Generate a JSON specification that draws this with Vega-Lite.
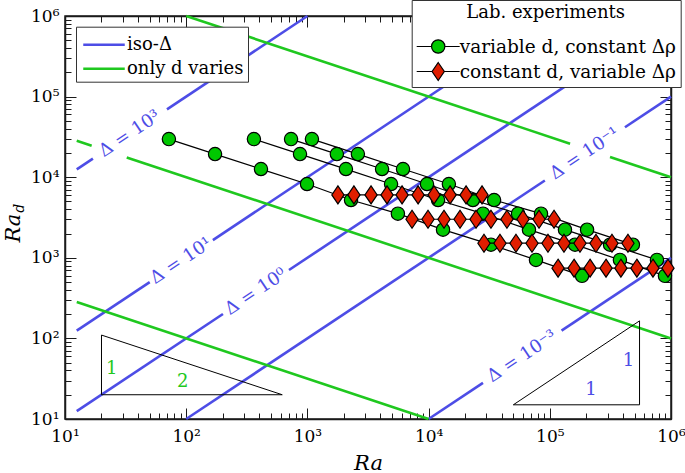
{
  "$schema": "https://vega.github.io/schema/vega-lite/v6.json",
  "width": 606,
  "height": 403,
  "autosize": {"type": "none"},
  "padding": {"left": 65, "top": 16, "right": 14, "bottom": 54},
  "background": "white",
  "config": {
    "font": "DejaVu Serif",
    "view": {"stroke": "#1a1a1a", "strokeWidth": 1.5},
    "axis": {
      "grid": false,
      "domainColor": "#1a1a1a",
      "domainWidth": 1.5,
      "tickColor": "#1a1a1a",
      "tickWidth": 1,
      "labelColor": "black",
      "labelFont": "DejaVu Serif",
      "labelFontSize": 17,
      "titleFont": "DejaVu Serif",
      "titleFontSize": 21,
      "titleFontWeight": "normal",
      "titleFontStyle": "italic",
      "titleColor": "black",
      "labelFlush": false,
      "labelOverlap": false,
      "labelBound": false
    },
    "legend": {
      "labelFont": "DejaVu Serif",
      "labelFontSize": 18,
      "titleFont": "DejaVu Serif",
      "titleFontSize": 18,
      "titleFontWeight": "normal",
      "titleColor": "black",
      "labelColor": "black",
      "labelLimit": 400,
      "strokeColor": "#333333",
      "fillColor": "white"
    }
  },
  "datasets": {
    "guides": [
      {"kind": "iso-Δ", "Ra": 12.5, "Rad": 12500, "Ra2": 17, "Rad2": 17000},
      {"kind": "iso-Δ", "Ra": 69.4, "Rad": 69400, "Ra2": 1000, "Rad2": 1000000},
      {"kind": "iso-Δ", "Ra": 12.5, "Rad": 125, "Ra2": 50, "Rad2": 500},
      {"kind": "iso-Δ", "Ra": 166, "Rad": 1660, "Ra2": 100000, "Rad2": 1000000},
      {"kind": "iso-Δ", "Ra": 12.5, "Rad": 12.5, "Ra2": 201, "Rad2": 201},
      {"kind": "iso-Δ", "Ra": 705, "Rad": 705, "Ra2": 1000000, "Rad2": 1000000},
      {"kind": "iso-Δ", "Ra": 100, "Rad": 10, "Ra2": 91000, "Rad2": 9100},
      {"kind": "iso-Δ", "Ra": 417000, "Rad": 41700, "Ra2": 1000000, "Rad2": 100000},
      {"kind": "iso-Δ", "Ra": 10000, "Rad": 10, "Ra2": 28100, "Rad2": 28.1},
      {"kind": "iso-Δ", "Ra": 125000, "Rad": 125, "Ra2": 1000000, "Rad2": 1000},
      {"kind": "only d varies", "Ra": 100, "Rad": 1000000, "Ra2": 147000, "Rad2": 26080},
      {"kind": "only d varies", "Ra": 314000, "Rad": 17850, "Ra2": 1000000, "Rad2": 10000},
      {"kind": "only d varies", "Ra": 12.5, "Rad": 28280, "Ra2": 16.6, "Rad2": 24540},
      {"kind": "only d varies", "Ra": 32.3, "Rad": 17600, "Ra2": 1000000, "Rad2": 100},
      {"kind": "only d varies", "Ra": 12.5, "Rad": 282.8, "Ra2": 10000, "Rad2": 10}
    ],
    "deltaLabels": [
      {"text": "Δ = 10³", "Ra": 34.3, "Rad": 34300},
      {"text": "Δ = 10¹", "Ra": 91, "Rad": 910},
      {"text": "Δ = 10⁰", "Ra": 376, "Rad": 376},
      {"text": "Δ = 10⁻¹", "Ra": 194800, "Rad": 19480},
      {"text": "Δ = 10⁻³", "Ra": 59300, "Rad": 59.3}
    ],
    "triangles": [
      {"Ra": 20, "Rad": 20, "Ra2": 620, "Rad2": 20},
      {"Ra": 20, "Rad": 20, "Ra2": 20, "Rad2": 110},
      {"Ra": 20, "Rad": 110, "Ra2": 620, "Rad2": 20},
      {"Ra": 50000, "Rad": 15, "Ra2": 550000, "Rad2": 15},
      {"Ra": 550000, "Rad": 15, "Ra2": 550000, "Rad2": 165},
      {"Ra": 50000, "Rad": 15, "Ra2": 550000, "Rad2": 165}
    ],
    "slopeLabels": [
      {"text": "1", "kind": "only d varies", "Ra": 24.3, "Rad": 41.7},
      {"text": "2", "kind": "only d varies", "Ra": 93.5, "Rad": 28.4},
      {"text": "1", "kind": "iso-Δ", "Ra": 219000, "Rad": 23.1},
      {"text": "1", "kind": "iso-Δ", "Ra": 445000, "Rad": 51.8}
    ],
    "yTitle": [
      {"main": "Ra", "sub": "d", "Ra": 4.253, "Rad": 3524}
    ],
    "experiments": [
      {"series": "G1", "type": "variable d, constant Δρ", "Ra": 72, "Rad": 29700},
      {"series": "G1", "type": "variable d, constant Δρ", "Ra": 173, "Rad": 19360},
      {"series": "G1", "type": "variable d, constant Δρ", "Ra": 414, "Rad": 12620},
      {"series": "G1", "type": "variable d, constant Δρ", "Ra": 993, "Rad": 8222},
      {"series": "G1", "type": "variable d, constant Δρ", "Ra": 2290, "Rad": 5212},
      {"series": "G1", "type": "variable d, constant Δρ", "Ra": 5580, "Rad": 3532},
      {"series": "G1", "type": "variable d, constant Δρ", "Ra": 13150, "Rad": 2234},
      {"series": "G1", "type": "variable d, constant Δρ", "Ra": 32700, "Rad": 1455},
      {"series": "G1", "type": "variable d, constant Δρ", "Ra": 76900, "Rad": 942},
      {"series": "G1", "type": "variable d, constant Δρ", "Ra": 184500, "Rad": 597},
      {"series": "G2", "type": "variable d, constant Δρ", "Ra": 362, "Rad": 29700},
      {"series": "G2", "type": "variable d, constant Δρ", "Ra": 869, "Rad": 19360},
      {"series": "G2", "type": "variable d, constant Δρ", "Ra": 2080, "Rad": 12620},
      {"series": "G2", "type": "variable d, constant Δρ", "Ra": 4900, "Rad": 8222},
      {"series": "G2", "type": "variable d, constant Δρ", "Ra": 11970, "Rad": 5212},
      {"series": "G2", "type": "variable d, constant Δρ", "Ra": 28100, "Rad": 3532},
      {"series": "G2", "type": "variable d, constant Δρ", "Ra": 67300, "Rad": 2234},
      {"series": "G2", "type": "variable d, constant Δρ", "Ra": 161500, "Rad": 1455},
      {"series": "G2", "type": "variable d, constant Δρ", "Ra": 379000, "Rad": 942},
      {"series": "G2", "type": "variable d, constant Δρ", "Ra": 891000, "Rad": 597},
      {"series": "G3", "type": "variable d, constant Δρ", "Ra": 733, "Rad": 29700},
      {"series": "G3", "type": "variable d, constant Δρ", "Ra": 1750, "Rad": 19360},
      {"series": "G3", "type": "variable d, constant Δρ", "Ra": 4130, "Rad": 12620},
      {"series": "G3", "type": "variable d, constant Δρ", "Ra": 9700, "Rad": 8222},
      {"series": "G3", "type": "variable d, constant Δρ", "Ra": 23200, "Rad": 5212},
      {"series": "G3", "type": "variable d, constant Δρ", "Ra": 54700, "Rad": 3532},
      {"series": "G3", "type": "variable d, constant Δρ", "Ra": 133400, "Rad": 2234},
      {"series": "G3", "type": "variable d, constant Δρ", "Ra": 314000, "Rad": 1455},
      {"series": "G3", "type": "variable d, constant Δρ", "Ra": 766000, "Rad": 942},
      {"series": "G4", "type": "variable d, constant Δρ", "Ra": 1090, "Rad": 29700},
      {"series": "G4", "type": "variable d, constant Δρ", "Ra": 2610, "Rad": 19360},
      {"series": "G4", "type": "variable d, constant Δρ", "Ra": 6150, "Rad": 12620},
      {"series": "G4", "type": "variable d, constant Δρ", "Ra": 14700, "Rad": 8222},
      {"series": "G4", "type": "variable d, constant Δρ", "Ra": 34700, "Rad": 5212},
      {"series": "G4", "type": "variable d, constant Δρ", "Ra": 84600, "Rad": 3532},
      {"series": "G4", "type": "variable d, constant Δρ", "Ra": 203000, "Rad": 2234},
      {"series": "G4", "type": "variable d, constant Δρ", "Ra": 485000, "Rad": 1455},
      {"series": "R1", "type": "constant d, variable Δρ", "Ra": 1786, "Rad": 6030},
      {"series": "R1", "type": "constant d, variable Δρ", "Ra": 2420, "Rad": 6030},
      {"series": "R1", "type": "constant d, variable Δρ", "Ra": 3350, "Rad": 6030},
      {"series": "R1", "type": "constant d, variable Δρ", "Ra": 4540, "Rad": 6030},
      {"series": "R1", "type": "constant d, variable Δρ", "Ra": 6040, "Rad": 6030},
      {"series": "R1", "type": "constant d, variable Δρ", "Ra": 8190, "Rad": 6030},
      {"series": "R1", "type": "constant d, variable Δρ", "Ra": 11090, "Rad": 6030},
      {"series": "R1", "type": "constant d, variable Δρ", "Ra": 15040, "Rad": 6030},
      {"series": "R1", "type": "constant d, variable Δρ", "Ra": 20380, "Rad": 6030},
      {"series": "R1", "type": "constant d, variable Δρ", "Ra": 27600, "Rad": 6030},
      {"series": "R2", "type": "constant d, variable Δρ", "Ra": 7300, "Rad": 3010},
      {"series": "R2", "type": "constant d, variable Δρ", "Ra": 9890, "Rad": 3010},
      {"series": "R2", "type": "constant d, variable Δρ", "Ra": 13400, "Rad": 3010},
      {"series": "R2", "type": "constant d, variable Δρ", "Ra": 18170, "Rad": 3010},
      {"series": "R2", "type": "constant d, variable Δρ", "Ra": 24620, "Rad": 3010},
      {"series": "R2", "type": "constant d, variable Δρ", "Ra": 32700, "Rad": 3010},
      {"series": "R2", "type": "constant d, variable Δρ", "Ra": 44300, "Rad": 3010},
      {"series": "R2", "type": "constant d, variable Δρ", "Ra": 60100, "Rad": 3010},
      {"series": "R2", "type": "constant d, variable Δρ", "Ra": 81500, "Rad": 3010},
      {"series": "R2", "type": "constant d, variable Δρ", "Ra": 108400, "Rad": 3010},
      {"series": "R3", "type": "constant d, variable Δρ", "Ra": 28640, "Rad": 1517},
      {"series": "R3", "type": "constant d, variable Δρ", "Ra": 38800, "Rad": 1517},
      {"series": "R3", "type": "constant d, variable Δρ", "Ra": 52600, "Rad": 1517},
      {"series": "R3", "type": "constant d, variable Δρ", "Ra": 71300, "Rad": 1517},
      {"series": "R3", "type": "constant d, variable Δρ", "Ra": 96600, "Rad": 1517},
      {"series": "R3", "type": "constant d, variable Δρ", "Ra": 130900, "Rad": 1517},
      {"series": "R3", "type": "constant d, variable Δρ", "Ra": 177400, "Rad": 1517},
      {"series": "R3", "type": "constant d, variable Δρ", "Ra": 240400, "Rad": 1517},
      {"series": "R3", "type": "constant d, variable Δρ", "Ra": 325800, "Rad": 1517},
      {"series": "R3", "type": "constant d, variable Δρ", "Ra": 441500, "Rad": 1517},
      {"series": "R4", "type": "constant d, variable Δρ", "Ra": 117000, "Rad": 743},
      {"series": "R4", "type": "constant d, variable Δρ", "Ra": 158500, "Rad": 743},
      {"series": "R4", "type": "constant d, variable Δρ", "Ra": 214800, "Rad": 743},
      {"series": "R4", "type": "constant d, variable Δρ", "Ra": 291000, "Rad": 743},
      {"series": "R4", "type": "constant d, variable Δρ", "Ra": 386000, "Rad": 743},
      {"series": "R4", "type": "constant d, variable Δρ", "Ra": 523000, "Rad": 743},
      {"series": "R4", "type": "constant d, variable Δρ", "Ra": 710000, "Rad": 743},
      {"series": "R4", "type": "constant d, variable Δρ", "Ra": 944000, "Rad": 743}
    ]
  },
  "resolve": {"axis": {"x": "independent", "y": "independent"}},
  "layer": [
    {
      "data": {"name": "guides"},
      "mark": {"type": "rule", "strokeWidth": 2.6},
      "encoding": {
        "x": {
          "field": "Ra", "type": "quantitative",
          "scale": {"type": "log", "domain": [10, 1000000], "nice": false},
          "axis": {
            "orient": "bottom",
            "values": [10,20,30,40,50,60,70,80,90,100,200,300,400,500,600,700,800,900,1000,2000,3000,4000,5000,6000,7000,8000,9000,10000,20000,30000,40000,50000,60000,70000,80000,90000,100000,200000,300000,400000,500000,600000,700000,800000,900000,1000000],
            "labelExpr": "datum.value == 10 ? '10¹' : datum.value == 100 ? '10²' : datum.value == 1000 ? '10³' : datum.value == 10000 ? '10⁴' : datum.value == 100000 ? '10⁵' : datum.value == 1000000 ? '10⁶' : ''",
            "tickSize": {"condition": {"test": "datum.value == 10 || datum.value == 100 || datum.value == 1000 || datum.value == 10000 || datum.value == 100000 || datum.value == 1000000", "value": -11}, "value": -6},
            "labelPadding": 20,
            "title": "Ra",
            "titleY": 50,
            "titleBaseline": "alphabetic"
          }
        },
        "y": {
          "field": "Rad", "type": "quantitative",
          "scale": {"type": "log", "domain": [10, 1000000], "nice": false},
          "axis": {
            "orient": "left",
            "values": [10,20,30,40,50,60,70,80,90,100,200,300,400,500,600,700,800,900,1000,2000,3000,4000,5000,6000,7000,8000,9000,10000,20000,30000,40000,50000,60000,70000,80000,90000,100000,200000,300000,400000,500000,600000,700000,800000,900000,1000000],
            "labelExpr": "datum.value == 10 ? '10¹' : datum.value == 100 ? '10²' : datum.value == 1000 ? '10³' : datum.value == 10000 ? '10⁴' : datum.value == 100000 ? '10⁵' : datum.value == 1000000 ? '10⁶' : ''",
            "tickSize": {"condition": {"test": "datum.value == 10 || datum.value == 100 || datum.value == 1000 || datum.value == 10000 || datum.value == 100000 || datum.value == 1000000", "value": -11}, "value": -6},
            "labelPadding": 17,
            "title": null
          }
        },
        "x2": {"field": "Ra2"},
        "y2": {"field": "Rad2"},
        "stroke": {
          "field": "kind", "type": "nominal",
          "scale": {"domain": ["iso-Δ", "only d varies"], "range": ["#4d4de6", "#1fc81f"]},
          "legend": {
            "title": null,
            "orient": "none",
            "legendX": 11,
            "legendY": 10.7,
            "symbolType": "M-1.66,0L1.66,0",
            "symbolSize": 625,
            "symbolStrokeWidth": 2.6,
            "symbolOffset": 10,
            "labelOffset": 9,
            "padding": 4,
            "rowPadding": 1
          }
        }
      }
    },
    {
      "data": {"name": "deltaLabels"},
      "mark": {"type": "text", "angle": 326.34, "fontSize": 18, "color": "#4d4de6", "align": "center", "baseline": "middle"},
      "encoding": {
        "x": {"field": "Ra", "type": "quantitative", "scale": {"type": "log", "domain": [10, 1000000], "nice": false}, "axis": null},
        "y": {"field": "Rad", "type": "quantitative", "scale": {"type": "log", "domain": [10, 1000000], "nice": false}, "axis": null},
        "text": {"field": "text"}
      }
    },
    {
      "data": {"name": "triangles"},
      "mark": {"type": "rule", "color": "black", "strokeWidth": 1},
      "encoding": {
        "x": {
          "field": "Ra", "type": "quantitative",
          "scale": {"type": "log", "domain": [10, 1000000], "nice": false},
          "axis": {
            "orient": "top",
            "values": [10,20,30,40,50,60,70,80,90,100,200,300,400,500,600,700,800,900,1000,2000,3000,4000,5000,6000,7000,8000,9000,10000,20000,30000,40000,50000,60000,70000,80000,90000,100000,200000,300000,400000,500000,600000,700000,800000,900000,1000000],
            "labels": false,
            "tickSize": {"condition": {"test": "datum.value == 10 || datum.value == 100 || datum.value == 1000 || datum.value == 10000 || datum.value == 100000 || datum.value == 1000000", "value": -11}, "value": -6},
            "title": null
          }
        },
        "y": {
          "field": "Rad", "type": "quantitative",
          "scale": {"type": "log", "domain": [10, 1000000], "nice": false},
          "axis": {
            "orient": "right",
            "values": [10,20,30,40,50,60,70,80,90,100,200,300,400,500,600,700,800,900,1000,2000,3000,4000,5000,6000,7000,8000,9000,10000,20000,30000,40000,50000,60000,70000,80000,90000,100000,200000,300000,400000,500000,600000,700000,800000,900000,1000000],
            "labels": false,
            "tickSize": {"condition": {"test": "datum.value == 10 || datum.value == 100 || datum.value == 1000 || datum.value == 10000 || datum.value == 100000 || datum.value == 1000000", "value": -11}, "value": -6},
            "title": null
          }
        },
        "x2": {"field": "Ra2"},
        "y2": {"field": "Rad2"}
      }
    },
    {
      "data": {"name": "slopeLabels"},
      "mark": {"type": "text", "fontSize": 18, "align": "center", "baseline": "middle"},
      "encoding": {
        "x": {"field": "Ra", "type": "quantitative", "scale": {"type": "log", "domain": [10, 1000000], "nice": false}, "axis": null},
        "y": {"field": "Rad", "type": "quantitative", "scale": {"type": "log", "domain": [10, 1000000], "nice": false}, "axis": null},
        "text": {"field": "text"},
        "color": {"condition": {"test": "datum.kind == 'only d varies'", "value": "#1fc81f"}, "value": "#4d4de6"}
      }
    },
    {
      "data": {"name": "experiments"},
      "transform": [{"filter": "datum.type == 'variable d, constant Δρ'"}],
      "mark": {"type": "line", "color": "black", "strokeWidth": 1.2},
      "encoding": {
        "x": {"field": "Ra", "type": "quantitative", "scale": {"type": "log", "domain": [10, 1000000], "nice": false}, "axis": null},
        "y": {"field": "Rad", "type": "quantitative", "scale": {"type": "log", "domain": [10, 1000000], "nice": false}, "axis": null},
        "detail": {"field": "series"}
      }
    },
    {
      "data": {"name": "experiments"},
      "transform": [{"filter": "datum.type == 'variable d, constant Δρ'"}],
      "mark": {"type": "point", "shape": "circle", "filled": true, "fill": "#00c800", "stroke": "black", "strokeWidth": 1.2, "size": 177, "opacity": 1},
      "encoding": {
        "x": {"field": "Ra", "type": "quantitative", "scale": {"type": "log", "domain": [10, 1000000], "nice": false}, "axis": null},
        "y": {"field": "Rad", "type": "quantitative", "scale": {"type": "log", "domain": [10, 1000000], "nice": false}, "axis": null}
      }
    },
    {
      "data": {"name": "experiments"},
      "transform": [{"filter": "datum.type == 'constant d, variable Δρ'"}],
      "mark": {"type": "line", "color": "black", "strokeWidth": 1.2},
      "encoding": {
        "x": {"field": "Ra", "type": "quantitative", "scale": {"type": "log", "domain": [10, 1000000], "nice": false}, "axis": null},
        "y": {"field": "Rad", "type": "quantitative", "scale": {"type": "log", "domain": [10, 1000000], "nice": false}, "axis": null},
        "detail": {"field": "series"}
      }
    },
    {
      "data": {"name": "experiments"},
      "transform": [{"filter": "datum.type == 'constant d, variable Δρ'"}],
      "mark": {"type": "point", "shape": "M0,-1L0.68,0L0,1L-0.68,0Z", "filled": true, "fill": "#e01e00", "stroke": "black", "strokeWidth": 1.2, "size": 324, "opacity": 1},
      "encoding": {
        "x": {"field": "Ra", "type": "quantitative", "scale": {"type": "log", "domain": [10, 1000000], "nice": false}, "axis": null},
        "y": {"field": "Rad", "type": "quantitative", "scale": {"type": "log", "domain": [10, 1000000], "nice": false}, "axis": null}
      }
    },
    {
      "data": {"values": []},
      "mark": {"type": "point", "filled": true, "stroke": "black", "strokeWidth": 1.2, "opacity": 1},
      "encoding": {
        "shape": {
          "field": "type", "type": "nominal",
          "scale": {
            "domain": ["variable d, constant Δρ", "constant d, variable Δρ"],
            "range": [
              "M-1.72,0L-0.532,0M0.532,0L1.72,0M0.532,0C0.532,0.2938,0.2938,0.532,0,0.532C-0.2938,0.532,-0.532,0.2938,-0.532,0C-0.532,-0.2938,-0.2938,-0.532,0,-0.532C0.2938,-0.532,0.532,-0.2938,0.532,0Z",
              "M-1.72,0L-0.49,0M0.49,0L1.72,0M0,-0.72L0.49,0L0,0.72L-0.49,0Z"
            ]
          },
          "legend": {
            "title": "Lab. experiments",
            "titleAnchor": "middle",
            "orient": "none",
            "legendX": 346.7,
            "legendY": -16,
            "padding": 4,
            "symbolSize": 625,
            "symbolOffset": 9,
            "labelOffset": 8,
            "labelFontSize": 18.5,
            "symbolStrokeWidth": 1.2,
            "rowPadding": 2,
            "titlePadding": 11
          }
        },
        "fill": {
          "field": "type", "type": "nominal",
          "scale": {"domain": ["variable d, constant Δρ", "constant d, variable Δρ"], "range": ["#00c800", "#e01e00"]},
          "legend": {
            "title": "Lab. experiments",
            "titleAnchor": "middle",
            "orient": "none",
            "legendX": 346.7,
            "legendY": -16,
            "padding": 4,
            "symbolSize": 625,
            "symbolOffset": 9,
            "labelOffset": 8,
            "labelFontSize": 18.5,
            "symbolStrokeWidth": 1.2,
            "rowPadding": 2,
            "titlePadding": 11
          }
        }
      }
    },
    {
      "data": {"name": "yTitle"},
      "mark": {"type": "text", "angle": 270, "fontSize": 21, "fontStyle": "italic", "align": "right", "baseline": "alphabetic", "color": "black"},
      "encoding": {
        "x": {"field": "Ra", "type": "quantitative", "scale": {"type": "log", "domain": [10, 1000000], "nice": false}, "axis": null},
        "y": {"field": "Rad", "type": "quantitative", "scale": {"type": "log", "domain": [10, 1000000], "nice": false}, "axis": null},
        "text": {"field": "main"}
      }
    },
    {
      "data": {"name": "yTitle"},
      "mark": {"type": "text", "angle": 270, "fontSize": 14, "fontStyle": "italic", "align": "left", "baseline": "alphabetic", "dx": 1, "dy": 4, "color": "black"},
      "encoding": {
        "x": {"field": "Ra", "type": "quantitative", "scale": {"type": "log", "domain": [10, 1000000], "nice": false}, "axis": null},
        "y": {"field": "Rad", "type": "quantitative", "scale": {"type": "log", "domain": [10, 1000000], "nice": false}, "axis": null},
        "text": {"field": "sub"}
      }
    }
  ]
}
